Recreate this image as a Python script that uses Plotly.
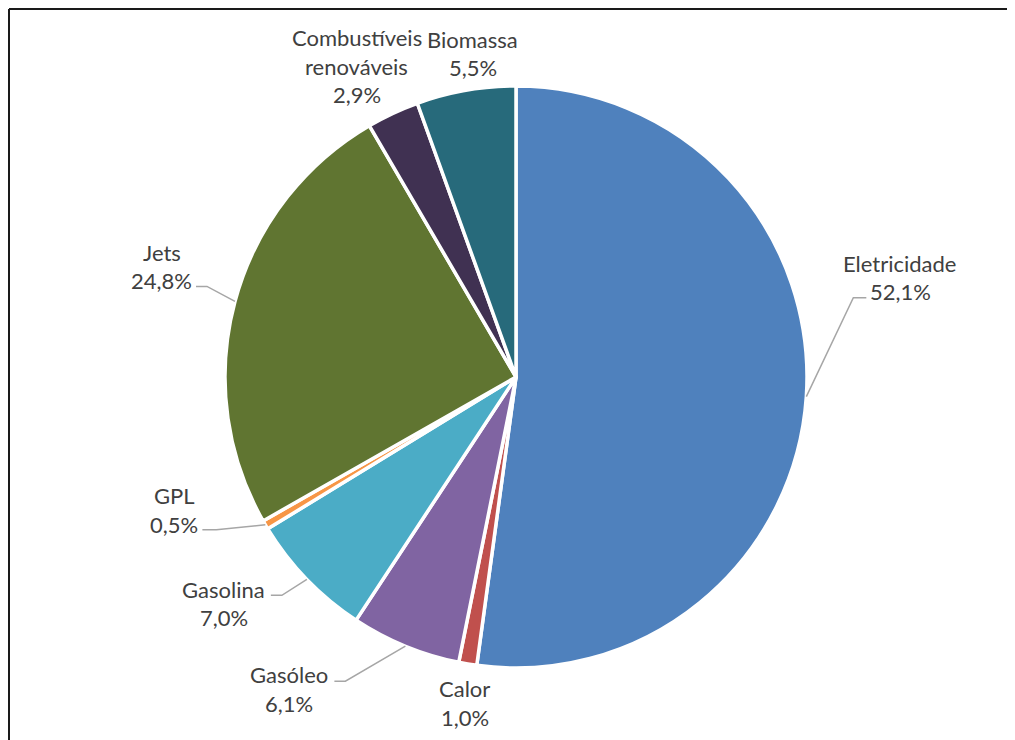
import math
import plotly.graph_objects as go

# ---- data ----
categories = ["Eletricidade", "Calor", "Gasóleo", "Gasolina", "GPL", "Jets",
              "Combustíveis renováveis", "Biomassa"]
label_lines = [["Eletricidade"], ["Calor"], ["Gasóleo"], ["Gasolina"], ["GPL"], ["Jets"],
               ["Combustíveis", "renováveis"], ["Biomassa"]]
values = [52.1, 1.0, 6.1, 7.0, 0.5, 24.8, 2.9, 5.5]
pct_text = ["52,1%", "1,0%", "6,1%", "7,0%", "0,5%", "24,8%", "2,9%", "5,5%"]
colors = ["#4F81BD", "#C0504D", "#8064A2", "#4BACC6", "#F79646", "#607531",
          "#403152", "#276A7B"]

# ---- layout geometry (screen pixels; page body has an 8px margin) ----
OFF = 8
W, H = 1015 - OFF, 740 - OFF
CX, CY, R = 516, 377, 291

# label placement relative to slice edge midpoint: text offset, leader elbow/end
label_style = [
    dict(text=(94, -119), leader=((47, -99), (60, -99))),
    dict(text=(-3, 39), leader=None),
    dict(text=(-116, 43), leader=((-60, 35), (-71, 35))),
    dict(text=(-83, 24), leader=((-25, 16), (-36, 16))),
    dict(text=(-91, -15), leader=((-49, 5), (-63, 5))),
    dict(text=(-73, -35), leader=((-28, -15), (-39, -15))),
    dict(text=(-36, -47), leader=None),
    dict(text=(7, -37), leader=None),
]

def px(x):
    return (x - OFF) / W

def py(y):
    return 1 - (y - OFF) / H

fig = go.Figure()
fig.add_trace(go.Pie(
    labels=categories, values=values, sort=False, direction="clockwise",
    rotation=0, textinfo="none", hoverinfo="label+percent",
    marker=dict(colors=colors, line=dict(color="white", width=3.5)),
    domain=dict(x=[px(CX - R), px(CX + R)], y=[py(CY + R), py(CY - R)]),
    showlegend=False,
))

total = sum(values)
cum = 0.0
annotations = []
shapes = []
LINE_H = 28.5
for i, v in enumerate(values):
    mid = (cum + v / 2) / total * 2 * math.pi
    cum += v
    ex = CX + R * math.sin(mid)
    ey = CY - R * math.cos(mid)
    st = label_style[i]
    tx, ty = ex + st["text"][0], ey + st["text"][1]
    lines = label_lines[i] + [pct_text[i]]
    n = len(lines)
    for k, t in enumerate(lines):
        yy = ty + (k - (n - 1) / 2) * LINE_H
        annotations.append(dict(
            x=px(tx), y=py(yy), xref="paper", yref="paper", text=t,
            showarrow=False, xanchor="center", yanchor="middle",
            font=dict(family="Lato, Open Sans, sans-serif", size=22, color="#404040"),
        ))
    if st["leader"]:
        (bx, by), (fx, fy) = st["leader"]
        path = "M {} {} L {} {} L {} {}".format(
            px(ex), py(ey), px(ex + bx), py(ey + by), px(ex + fx), py(ey + fy))
        shapes.append(dict(type="path", xref="paper", yref="paper", path=path,
                           line=dict(color="#A6A6A6", width=1.5)))

# outer chart border (top and left edges; right/bottom run off the page)
shapes.append(dict(type="line", xref="paper", yref="paper",
                   x0=px(9), x1=1, y0=py(9), y1=py(9),
                   line=dict(color="#1a1a1a", width=2)))
shapes.append(dict(type="line", xref="paper", yref="paper",
                   x0=px(9), x1=px(9), y0=0, y1=py(9),
                   line=dict(color="#1a1a1a", width=2)))

fig.update_layout(
    width=W, height=H, margin=dict(l=0, r=0, t=0, b=0),
    paper_bgcolor="white", plot_bgcolor="white",
    annotations=annotations, shapes=shapes,
)

fig.write_html("out.html")
